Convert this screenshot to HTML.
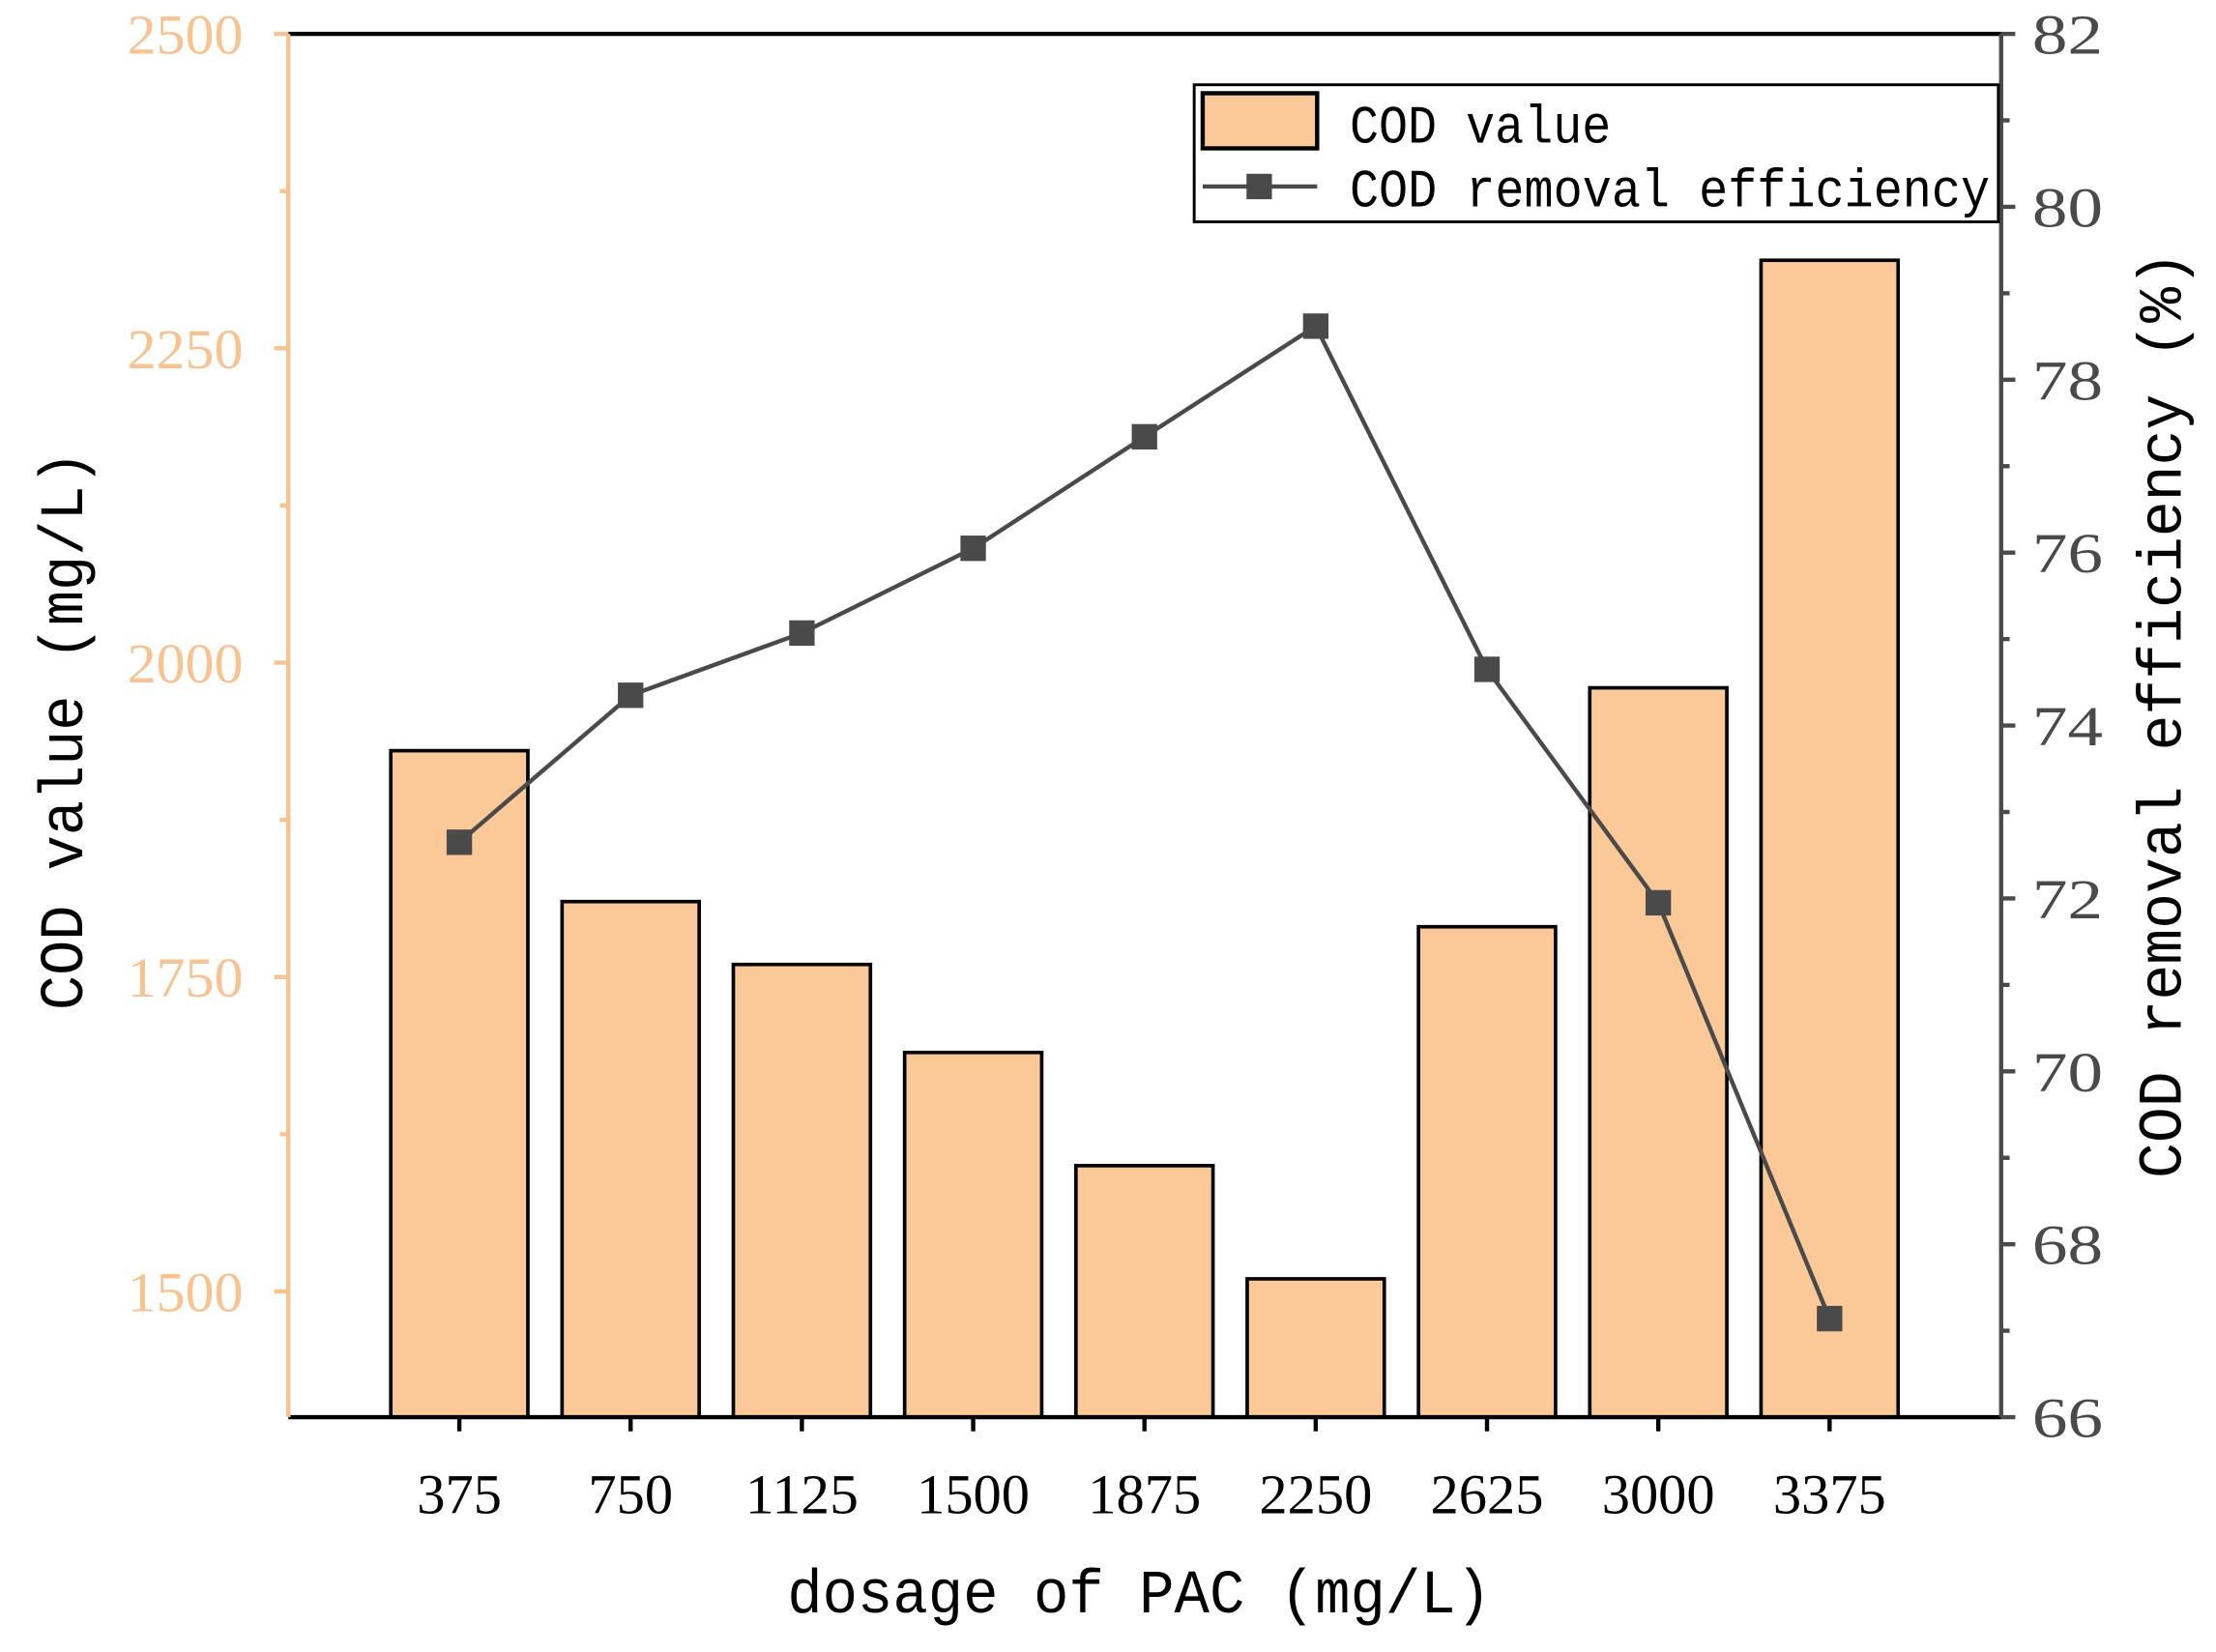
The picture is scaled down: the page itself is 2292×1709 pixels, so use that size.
<!DOCTYPE html>
<html><head><meta charset="utf-8"><style>html,body{margin:0;padding:0;background:#fff}svg{display:block}</style></head>
<body>
<svg id="chart" width="2292" height="1709" viewBox="0 0 1568 1169.2" xmlns="http://www.w3.org/2000/svg" font-family="'Liberation Mono', monospace">
<g id="g"></g>
</svg>
<script>
const categories = ["375","750","1125","1500","1875","2250","2625","3000","3375"];
const codValues = [1930,1810,1760,1690,1600,1510,1790,1980,2320];
const efficiency = [72.65,74.35,75.07,76.05,77.34,78.62,74.65,71.95,67.14];
const leftTicks = [1500,1750,2000,2250,2500];
const rightTicks = [66,68,70,72,74,76,78,80,82];

const NS="http://www.w3.org/2000/svg";
const g=document.getElementById('g');
function el(tag,attrs,name,text){const e=document.createElementNS(NS,tag);for(const k in attrs)e.setAttribute(k,attrs[k]);


if(text!==undefined)e.textContent=text;g.appendChild(e);return e;}
const L=204,R=1416,T=24,B=1003;
const yL=v=>914-(v-1500)*0.89;
const yR=v=>T+(82-v)*(B-T)/16;
const xC=i=>325+i*121.2;
const ORANGE="#F9C391", GRAY="#4a4a4a";
const TF="'Liberation Serif',serif";

codValues.forEach((v,i)=>{
  el('rect',{x:xC(i)-48.5,y:yL(v),width:97,height:B-yL(v),fill:"#FBC898",stroke:"#000","stroke-width":2.5},'bar-'+categories[i]);
});
el('line',{x1:L,y1:T,x2:R,y2:T,stroke:"#000","stroke-width":3},'top-border');
el('line',{x1:L,y1:B,x2:R,y2:B,stroke:"#000","stroke-width":3},'x-axis');
el('line',{x1:L,y1:T,x2:L,y2:B,stroke:ORANGE,"stroke-width":3},'left-y-axis');
el('line',{x1:R,y1:T,x2:R,y2:B,stroke:GRAY,"stroke-width":3},'right-y-axis');
for(let v=1500;v<=2500;v+=125){const maj=(v-1500)%250===0;
  el('line',{x1:L-(maj?10:6),y1:yL(v),x2:L,y2:yL(v),stroke:ORANGE,"stroke-width":3},'left-tick');}
leftTicks.forEach(v=>el('text',{x:L-32,y:yL(v)+14,"text-anchor":"end","font-size":40,fill:ORANGE,"font-family":TF,textLength:82,lengthAdjust:"spacingAndGlyphs"},'left-tick-label',String(v)));
for(let v=66;v<=82;v+=1){const maj=v%2===0;
  el('line',{x1:R,y1:yR(v),x2:R+(maj?10:6),y2:yR(v),stroke:GRAY,"stroke-width":3},'right-tick');}
rightTicks.forEach(v=>el('text',{x:R+22,y:yR(v)+14,"font-size":40,fill:GRAY,"font-family":TF,textLength:50,lengthAdjust:"spacingAndGlyphs"},'right-tick-label',String(v)));
categories.forEach((c,i)=>{
  el('line',{x1:xC(i),y1:B,x2:xC(i),y2:B+10,stroke:"#000","stroke-width":3},'x-tick');
  el('text',{x:xC(i),y:1071,"text-anchor":"middle","font-size":40,fill:"#000","font-family":TF,textLength:c.length*20,lengthAdjust:"spacingAndGlyphs"},'x-tick-label',c);
});
el('polyline',{points:efficiency.map((v,i)=>xC(i)+','+yR(v)).join(' '),fill:"none",stroke:GRAY,"stroke-width":3},'efficiency-line');
efficiency.forEach((v,i)=>el('rect',{x:xC(i)-9,y:yR(v)-9,width:18,height:18,fill:GRAY},'efficiency-point'));
el('text',{x:806,y:1141,"text-anchor":"middle","font-size":44,fill:"#000",textLength:498,lengthAdjust:"spacingAndGlyphs"},'x-axis-title','dosage of PAC (mg/L)');
el('text',{x:0,y:0,"text-anchor":"middle","font-size":44,fill:"#000",transform:"translate(58,517) rotate(-90)",textLength:396,lengthAdjust:"spacingAndGlyphs"},'left-y-axis-title','COD value (mg/L)');
el('text',{x:0,y:0,"text-anchor":"middle","font-size":44,fill:"#000",transform:"translate(1543,506) rotate(-90)",textLength:656,lengthAdjust:"spacingAndGlyphs"},'right-y-axis-title','COD removal efficiency (%)');
el('rect',{x:845,y:60,width:569,height:97,fill:"#fff",stroke:"#000","stroke-width":2},'legend-box');
el('rect',{x:851,y:66,width:81,height:39,fill:"#FBC898",stroke:"#000","stroke-width":3},'legend-bar-swatch');
el('text',{x:955,y:101,"font-size":38,fill:"#000",textLength:185,lengthAdjust:"spacingAndGlyphs"},'legend-bar-label','COD value');
el('line',{x1:851,y1:132,x2:932,y2:132,stroke:GRAY,"stroke-width":3},'legend-line-swatch');
el('rect',{x:882,y:123,width:18,height:18,fill:GRAY},'legend-marker');
el('text',{x:955,y:146,"font-size":38,fill:"#000",textLength:453,lengthAdjust:"spacingAndGlyphs"},'legend-line-label','COD removal efficiency');
</script>
</body></html>
